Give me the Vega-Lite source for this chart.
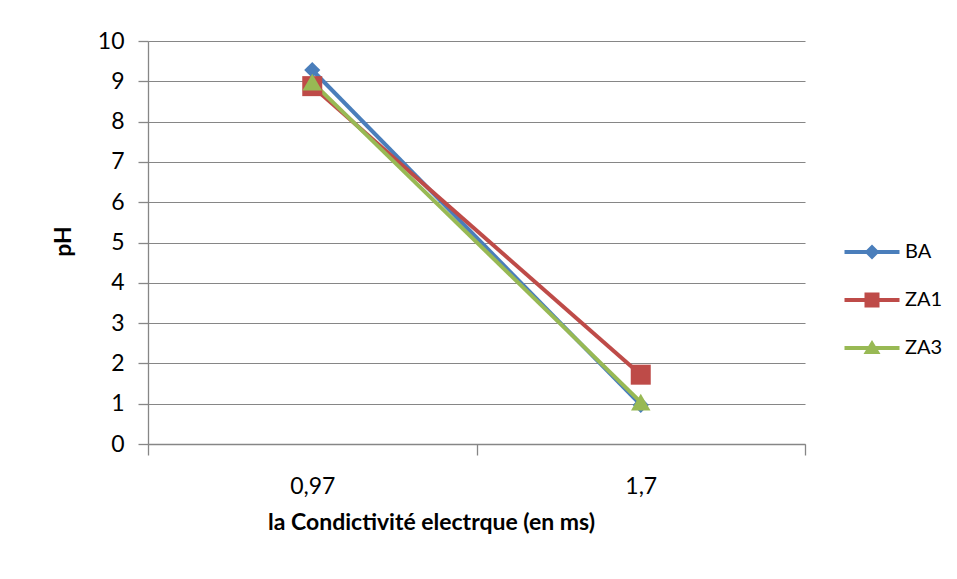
{
  "$schema": "https://vega.github.io/schema/vega-lite/v6.json",
  "width": 657,
  "height": 403,
  "autosize": {"type": "none"},
  "padding": {"left": 148, "top": 41, "right": 152, "bottom": 135},
  "background": "white",
  "config": {
    "view": {"stroke": null},
    "font": "Lato",
    "axis": {
      "labelFont": "Lato",
      "labelFontSize": 23,
      "labelColor": "#000000",
      "titleFont": "Lato",
      "titleFontSize": 23,
      "titleFontWeight": "bold",
      "titleColor": "#000000",
      "domainColor": "#868686",
      "tickColor": "#868686",
      "gridColor": "#868686",
      "domainWidth": 1.3,
      "tickWidth": 1.3,
      "gridWidth": 1.2
    }
  },
  "data": {
    "values": [
      {"cond": "0,97", "series": "BA", "pH": 9.28},
      {"cond": "1,7", "series": "BA", "pH": 0.97},
      {"cond": "0,97", "series": "ZA1", "pH": 8.88},
      {"cond": "1,7", "series": "ZA1", "pH": 1.72},
      {"cond": "0,97", "series": "ZA3", "pH": 8.98},
      {"cond": "1,7", "series": "ZA3", "pH": 1.04}
    ]
  },
  "encoding": {
    "x": {
      "field": "cond",
      "type": "ordinal",
      "sort": ["0,97", "1,7"],
      "bandPosition": 0.5,
      "scale": {"type": "band", "paddingInner": 0, "paddingOuter": 0},
      "axis": {
        "title": "la Condictivité electrque (en ms)",
        "labelAngle": 0,
        "tickBand": "extent",
        "tickSize": 11,
        "labelBaseline": "alphabetic",
        "labelPadding": 38,
        "grid": false,
        "titleX": 283,
        "titleY": 85,
        "titleAlign": "center",
        "titleBaseline": "alphabetic"
      }
    },
    "y": {
      "field": "pH",
      "type": "quantitative",
      "scale": {"domain": [0, 10], "nice": false, "zero": true},
      "axis": {
        "title": "pH",
        "values": [0, 1, 2, 3, 4, 5, 6, 7, 8, 9, 10],
        "tickSize": 10,
        "labelPadding": 14,
        "grid": true,
        "titleX": -78,
        "titleY": 200,
        "titleAlign": "center",
        "titleBaseline": "alphabetic"
      }
    },
    "color": {
      "field": "series",
      "type": "nominal",
      "sort": ["BA", "ZA1", "ZA3"],
      "scale": {"domain": ["BA", "ZA1", "ZA3"], "range": ["#4A7EBB", "#BE4B48", "#98B954"]},
      "legend": {
        "title": null,
        "orient": "none",
        "legendX": 714,
        "legendY": 201,
        "symbolSize": 400,
        "symbolStrokeWidth": 0,
        "labelOffset": 23,
        "labelFont": "Lato",
        "labelFontSize": 20,
        "labelColor": "#000000",
        "rowPadding": 28
      }
    }
  },
  "layer": [
    {
      "mark": {"type": "point", "filled": true, "opacity": 1, "size": 400, "clip": true},
      "encoding": {
        "y": {"datum": 50, "type": "quantitative"},
        "shape": {
          "field": "series",
          "type": "nominal",
          "scale": {"domain": ["BA", "ZA1", "ZA3"], "range": ["M-2.75,-0.2H2.75V0.2H-2.75ZM0,-0.75L0.75,0L0,0.75L-0.75,0Z", "M-2.75,-0.2H2.75V0.2H-2.75ZM-0.75,-0.75H0.75V0.75H-0.75Z", "M-2.75,-0.2H2.75V0.2H-2.75ZM0,-0.8L0.85,0.6H-0.85Z"]}
        }
      }
    },
    {
      "mark": {"type": "line", "strokeWidth": 4},
      "encoding": {}
    },
    {
      "transform": [{"filter": "datum.series === 'BA'"}],
      "mark": {"type": "point", "shape": "diamond", "size": 260, "filled": true, "opacity": 1},
      "encoding": {}
    },
    {
      "transform": [{"filter": "datum.series === 'ZA1'"}],
      "mark": {"type": "point", "shape": "square", "size": 400, "filled": true, "opacity": 1},
      "encoding": {}
    },
    {
      "transform": [{"filter": "datum.series === 'ZA3'"}],
      "mark": {"type": "point", "shape": "triangle-up", "size": 380, "filled": true, "opacity": 1},
      "encoding": {}
    }
  ]
}
